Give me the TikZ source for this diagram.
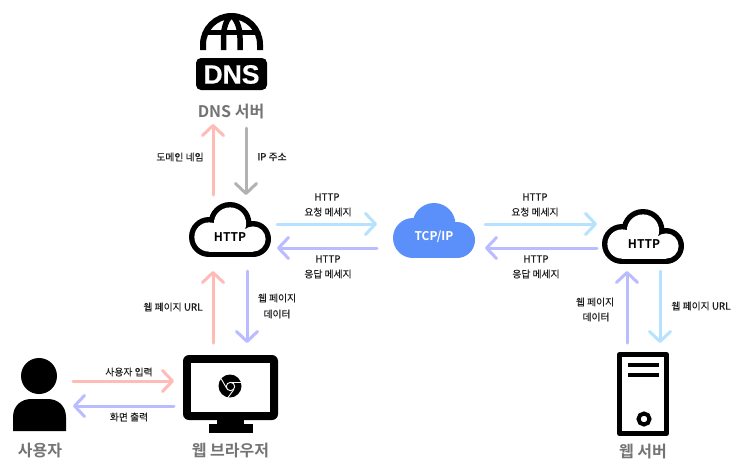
\documentclass[tikz,border=0pt]{standalone}
\usepackage{fontspec}
\setmainfont{Noto Sans CJK KR}[BoldFont=* Bold]
\newfontfamily\krmed{Noto Sans CJK KR}[FakeBold=0.35]
\newfontfamily\dnsfont{Liberation Sans}[BoldFont=* Bold,FakeBold=0.6]
\usetikzlibrary{arrows.meta}
\definecolor{pinkA}{HTML}{FFBBB6}
\definecolor{violetA}{HTML}{BBBBFF}
\definecolor{skyA}{HTML}{B5E2FF}
\definecolor{grayA}{HTML}{B2B2B2}
\definecolor{tcpblue}{HTML}{5B90FA}
\definecolor{titlegray}{HTML}{747474}
\definecolor{labelink}{HTML}{1E1E1E}
\tikzset{
  flow/.style={line width=3pt,line cap=round,-{Straight Barb[length=10pt,width=21pt,line width=3pt,round]}},
  box/.style={inner sep=0pt,outer sep=0pt,draw=none,fill=none},
  lab/.style={inner sep=0pt,text=labelink,font=\krmed\fontsize{9.8}{11}\selectfont,align=center},
  title/.style={inner sep=0pt,text=titlegray,font=\fontsize{16}{18}\selectfont\bfseries},
  inside/.style={inner sep=0pt,font=\fontsize{12}{14}\selectfont\bfseries},
  cloud outline/.pic={
    \fill[black] (20,35) circle[radius=20] (41,21.5) circle[radius=21.5] (64,37) circle[radius=18];
    \fill[black] (20,30) rectangle (64,55);
    \fill[white] (20,35) circle[radius=14.6] (41,21.5) circle[radius=16.1] (64,37) circle[radius=12.6];
    \fill[white] (20,30) rectangle (64,49.6);
  },
  cloud solid/.pic={
    \fill[tcpblue] (20,35) circle[radius=20] (41,21.5) circle[radius=21.5] (64,37) circle[radius=18];
    \fill[tcpblue] (20,30) rectangle (64,55);
  },
}
\begin{document}
\begin{tikzpicture}[x=1pt,y=-1pt]
\useasboundingbox (0,0) rectangle (747,475);

% clouds
\pic at (189,202) {cloud outline};
\pic at (393,203) {cloud solid};
\pic at (602,209) {cloud outline};

% connection boxes
\node[box,minimum width=94pt,minimum height=76pt] (httpA) at (230,233) {};
\node[box,minimum width=108pt,minimum height=60pt] (tcp) at (431,233) {};
\node[box,minimum width=94pt,minimum height=76pt] (httpB) at (644,233) {};
\node[box,minimum width=94pt,minimum height=40pt] (dns) at (230,108) {};
\node[box,minimum width=100pt,minimum height=80pt] (browser) at (224,383) {};
\node[box,minimum width=60pt,minimum height=80pt] (person) at (43,383) {};
\node[box,minimum width=94pt,minimum height=80pt] (server) at (644,383) {};

% cloud labels
\node[inside] (httpAt) at (230,237) {HTTP};
\node[inside,text=white] (tcpt) at (434,237) {TCP/IP};
\node[inside] (httpBt) at (644,244) {HTTP};

% DNS icon
\begin{scope}[line width=6pt]
  \draw (203,50) -- (203,44.5) arc[start angle=180,end angle=360,radius=28.5] -- (260,50);
  \draw[line width=5.5pt] (223.5,50) -- (223.5,38) .. controls (223.5,28) and (226,20) .. (231.5,15);
  \draw[line width=5.5pt] (240,50) -- (240,38) .. controls (240,28) and (237,20) .. (231.5,15);
  \draw[line width=5pt] (205,32.5) -- (258,32.5);
\end{scope}
\fill[black,rounded corners=5pt] (196,58) rectangle (267,90);
\node[inner sep=0pt,text=white,font=\dnsfont\fontsize{26.5}{27}\selectfont\bfseries] (dnsicon) at (231.5,74.5) {DNS};

% monitor
\fill[black,rounded corners=6pt] (183,355) rectangle (278,420);
\fill[white] (191,363) rectangle (270,412);
\fill[black] (217,419) rectangle (244,425);
\fill[black] (209,424) rectangle (253,433);
\fill[black] (230,386) circle[radius=11.5];
\draw[white,line width=0.9pt] (230.5,386.5) circle[radius=4.2];
\draw[white,line width=0.9pt] (231,382.2) -- (241.5,382.2);
\draw[white,line width=0.9pt] (226.8,388.5) -- (221,378.5);
\draw[white,line width=0.9pt] (233.8,389.5) -- (228,397.5);

% person
\fill[black] (39,376) circle[radius=18];
\fill[black] (13,431) -- (13,417) .. controls (13,406) and (21,399) .. (31,399) -- (48,399) .. controls (58,399) and (66,406) .. (66,417) -- (66,431) -- cycle;

% server
\draw[line width=5pt,line join=round] (619.5,354.5) rectangle (666.5,433.5);
\fill[black] (628,363) rectangle (659,367);
\fill[black] (628,373) rectangle (659,377);
\draw[line width=4pt] (644,419) circle[radius=5.5];

% titles
\node[title] (dnst) at (231,112) {DNS 서버};
\node[title] (usert) at (40,451) {사용자};
\node[title] (browsert) at (230.5,450) {웹 브라우저};
\node[title] (servert) at (643,451) {웹 서버};

% connectors
\draw[flow,pinkA] ([xshift=-17pt]httpA.north) -- ([xshift=-17pt]dns.south |- 0,124);
\draw[flow,grayA] ([xshift=16pt]dns.south |- 0,128) -- ([xshift=16pt]httpA.north);

\draw[flow,pinkA] ([xshift=-17pt]browser.north -| httpA.south) -- ([xshift=-17pt]httpA.south);
\draw[flow,violetA] ([xshift=17pt]httpA.south) -- ([xshift=17pt]browser.north -| httpA.south);

\draw[flow,skyA] ([yshift=9pt]httpA.east) -- ([yshift=9pt]tcp.west);
\draw[flow,violetA] ([yshift=-15pt]tcp.west) -- ([yshift=-15pt]httpA.east);
\draw[flow,skyA] ([yshift=9pt]tcp.east) -- ([yshift=9pt]httpB.west);
\draw[flow,violetA] ([yshift=-15pt]httpB.west) -- ([yshift=-15pt]tcp.east);

\draw[flow,violetA] ([xshift=-17pt]server.north) -- ([xshift=-17pt]httpB.south);
\draw[flow,skyA] ([xshift=16pt]httpB.south) -- ([xshift=16pt]server.north);

\draw[flow,pinkA] ([yshift=2pt]person.east) -- ([yshift=2pt]browser.west);
\draw[flow,violetA] ([yshift=-23pt]browser.west) -- ([yshift=-23pt]person.east);

% labels
\node[lab] (l1) at (180,157) {도메인 네임};
\node[lab] (l2) at (272,157) {IP 주소};
\node[lab] (l3) at (173,307) {웹 페이지 URL};
\node[lab] (l4) at (277,298) {웹 페이지};
\node[lab] (l5) at (277,314) {데이터};
\node[lab] (l6) at (327,197) {HTTP};
\node[lab] (l7) at (328,212) {요청 메세지};
\node[lab] (l8) at (328,259) {HTTP};
\node[lab] (l9) at (328,274) {응답 메세지};
\node[lab] (l10) at (535,197) {HTTP};
\node[lab] (l11) at (535,212) {요청 메세지};
\node[lab] (l12) at (536,259) {HTTP};
\node[lab] (l13) at (536,274) {응답 메세지};
\node[lab] (l14) at (595,302) {웹 페이지};
\node[lab] (l15) at (596,317) {데이터};
\node[lab] (l16) at (701,306) {웹 페이지 URL};
\node[lab] (l17) at (129,372) {사용자 입력};
\node[lab] (l18) at (129,417) {화면 출력};
\end{tikzpicture}
\end{document}
